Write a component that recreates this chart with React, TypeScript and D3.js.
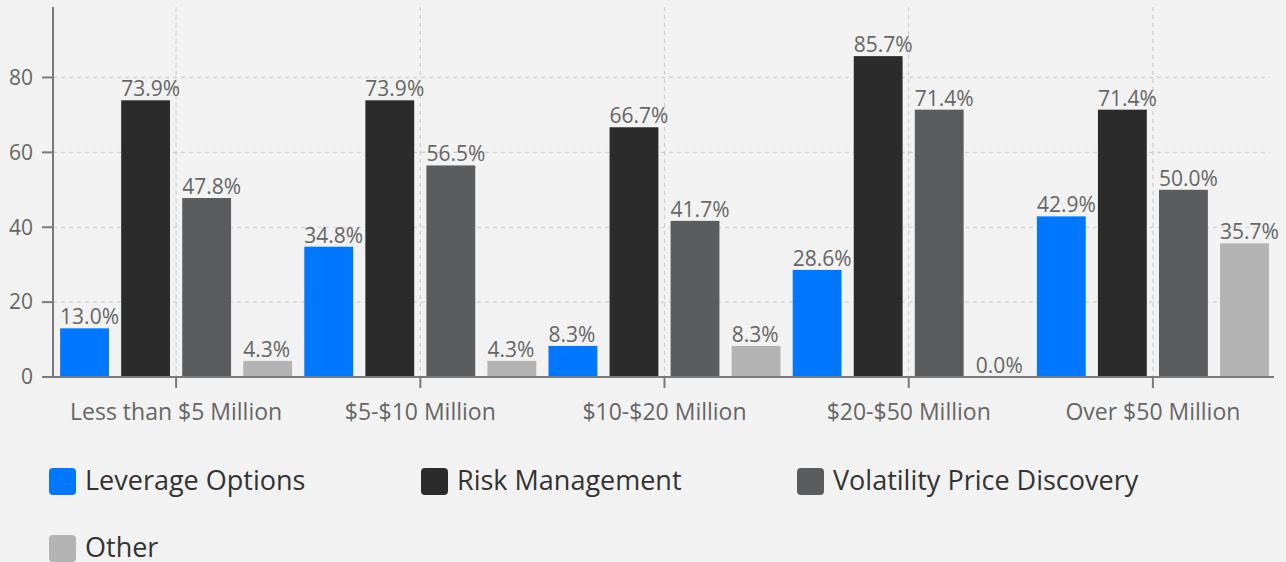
import React from "react";
import * as d3 from "d3";

const categories = ["Less than $5 Million", "$5-$10 Million", "$10-$20 Million", "$20-$50 Million", "Over $50 Million"];
const seriesNames = ["Leverage Options", "Risk Management", "Volatility Price Discovery", "Other"];
const seriesColors = ["#0077ff", "#2b2b2b", "#5b5c5e", "#b3b3b3"];
const leverageOptions = [13.0, 34.8, 8.3, 28.6, 42.9];
const riskManagement = [73.9, 73.9, 66.7, 85.7, 71.4];
const volatilityPriceDiscovery = [47.8, 56.5, 41.7, 71.4, 50.0];
const other = [4.3, 4.3, 8.3, 0.0, 35.7];
const yTicks = [0, 20, 40, 60, 80];

const seriesValues = [leverageOptions, riskManagement, volatilityPriceDiscovery, other];

const W = 1286, H = 562;
const axisX = 53, left = 54, right = 1275, top = 8, bottom = 377;
const font = "'Open Sans', sans-serif";

export default function App() {
  const maxV = d3.max(seriesValues.flat()) as number;
  const y = d3.scaleLinear().domain([0, maxV * 1.15]).range([bottom, top]);
  const x0 = d3.scaleBand<string>().domain(categories).range([left, right]).padding(0);
  const x1 = d3.scaleBand<string>().domain(seriesNames).range([0, x0.bandwidth()]).paddingInner(0.2).paddingOuter(0.1);
  const legendX = [49, 421, 797, 49];
  const legendY = [468, 468, 468, 535];

  return (
    <svg width={W} height={H} style={{ position: "absolute", left: 0, top: 0, background: "#f2f2f2", fontFamily: font }}>
      <rect x={0} y={0} width={W} height={H} fill="#f2f2f2" />
      {/* horizontal grid */}
      {yTicks.filter((t) => t > 0).map((t) => (
        <line key={"h" + t} x1={axisX} x2={right - 5} y1={y(t)} y2={y(t)} stroke="#cccccc" strokeWidth={1.2} strokeDasharray="4,4" />
      ))}
      {/* vertical grid */}
      {categories.map((c) => {
        const cx = (x0(c) as number) + x0.bandwidth() / 2;
        return <line key={"v" + c} x1={cx} x2={cx} y1={top - 1} y2={bottom} stroke="#cccccc" strokeWidth={1.2} strokeDasharray="4,4" />;
      })}
      {/* bars */}
      {categories.map((c, ci) => (
        <g key={"g" + c} transform={`translate(${x0(c)},0)`}>
          {seriesNames.map((s, si) => {
            const v = seriesValues[si][ci];
            const bx = x1(s) as number;
            return (
              <g key={s}>
                <rect x={bx} y={y(v)} width={x1.bandwidth()} height={bottom - y(v)} fill={seriesColors[si]} />
                <text x={bx} y={y(v) - 4} fontSize={21} fill="#666666">{v.toFixed(1)}%</text>
              </g>
            );
          })}
        </g>
      ))}
      {/* y axis */}
      <line x1={axisX} x2={axisX} y1={top - 1} y2={bottom} stroke="#7a7a7a" strokeWidth={2} />
      {yTicks.map((t) => (
        <g key={"yt" + t}>
          <line x1={axisX - 11} x2={axisX} y1={y(t)} y2={y(t)} stroke="#7a7a7a" strokeWidth={2} />
          <text x={axisX - 20} y={y(t)} dy="0.35em" textAnchor="end" fontSize={21} fill="#666666">{t}</text>
        </g>
      ))}
      {/* x axis */}
      <line x1={axisX - 11} x2={right - 1} y1={bottom} y2={bottom} stroke="#7a7a7a" strokeWidth={2} />
      {categories.map((c) => {
        const cx = (x0(c) as number) + x0.bandwidth() / 2;
        return (
          <g key={"xt" + c}>
            <line x1={cx} x2={cx} y1={bottom} y2={bottom + 11} stroke="#7a7a7a" strokeWidth={2} />
            <text x={cx} y={420} textAnchor="middle" fontSize={23} fill="#666666">{c}</text>
          </g>
        );
      })}
      {/* legend */}
      {seriesNames.map((s, si) => (
        <g key={"l" + s} transform={`translate(${legendX[si]},${legendY[si]})`}>
          <rect x={0} y={0} width={27} height={27} rx={4} fill={seriesColors[si]} />
          <text x={36} y={22} fontSize={27} fill="#333333">{s}</text>
        </g>
      ))}
    </svg>
  );
}
